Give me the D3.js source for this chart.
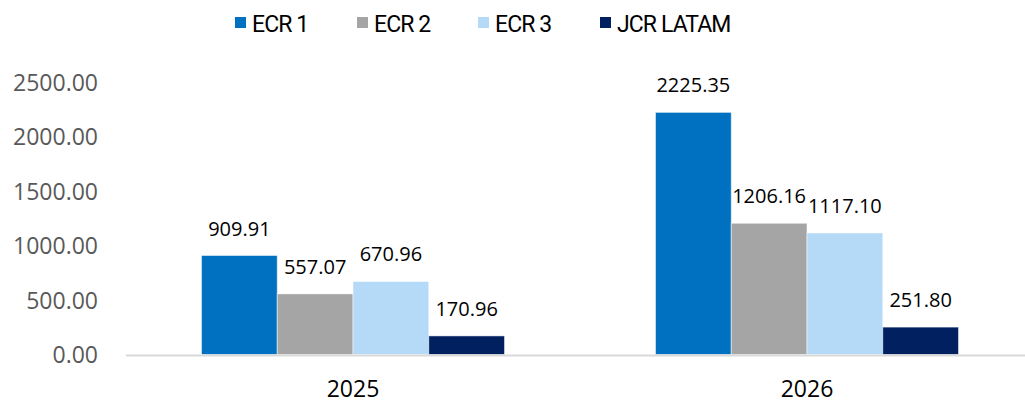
<!DOCTYPE html>
<html><head><meta charset="utf-8">
<script src="https://cdn.jsdelivr.net/npm/d3@7"></script>
<style>body{margin:0;background:#fff}svg{display:block}</style>
</head><body>
<svg id="c" width="1025" height="403"></svg>
<script>
const categories = ["2025", "2026"];
const seriesNames = ["ECR 1", "ECR 2", "ECR 3", "JCR LATAM"];
const ecr1 = [909.91, 2225.35];
const ecr2 = [557.07, 1206.16];
const ecr3 = [670.96, 1117.10];
const jcrLatam = [170.96, 251.80];
const yTicks = [0, 500, 1000, 1500, 2000, 2500];
const colors = ["#0070C0", "#A5A5A5", "#B4DAF8", "#002060"];

const seriesValues = [ecr1, ecr2, ecr3, jcrLatam];
const svg = d3.select("#c");
const W = 1025;
const x0 = d3.scaleBand().domain(categories).range([126, 1034]).padding(0);
const x1 = d3.scaleBand().domain(seriesNames).range([75.5, 378.5]).padding(0);
const y = d3.scaleLinear().domain([0, 2500]).range([354.5, 82.5]);

// y tick labels
const yAxis = d3.axisLeft(y).tickValues(yTicks).tickFormat(d3.format(".2f")).tickSize(0).tickPadding(0);
const ga = svg.append("g").attr("transform", "translate(98,0)").call(yAxis);
ga.select(".domain").remove();
ga.selectAll("text").attr("font-family", "'Open Sans', 'Noto Sans', sans-serif")
  .attr("font-size", 23).attr("fill", "#595959").attr("dy", "0.35em");

// bars
const groups = svg.selectAll("g.grp").data(categories).enter().append("g")
  .attr("transform", d => `translate(${x0(d)},0)`);
seriesNames.forEach((s, si) => {
  groups.append("rect")
    .attr("x", x1(s)).attr("width", x1.bandwidth())
    .attr("y", (d, i) => y(seriesValues[si][i]))
    .attr("height", (d, i) => y(0) - y(seriesValues[si][i]))
    .attr("fill", colors[si]).attr("stroke", "#ffffff").attr("stroke-opacity", 0.5).attr("stroke-width", 1);
  groups.append("text")
    .attr("x", x1(s) + x1.bandwidth() / 2)
    .attr("y", (d, i) => y(seriesValues[si][i]) - 20)
    .attr("text-anchor", "middle")
    .attr("font-family", "'Open Sans', 'Noto Sans', sans-serif")
    .attr("font-size", 20).attr("fill", "#000")
    .text((d, i) => d3.format(".2f")(seriesValues[si][i]));
});

// baseline axis
const xAxis = d3.axisBottom(x0).tickSize(0).tickPadding(0);
const gx = svg.append("g").attr("transform", "translate(0,355.5)").call(xAxis);
gx.select(".domain").remove();
svg.append("line").attr("x1", 126).attr("x2", W).attr("y1", 355.5).attr("y2", 355.5)
  .attr("stroke", "#D9D9D9").attr("stroke-width", 2);
gx.selectAll("text").attr("font-family", "'Open Sans', 'Noto Sans', sans-serif")
  .attr("font-size", 23).attr("fill", "#000").attr("dy", 0).attr("y", 41.5);

// legend
const legX = [235, 357, 478, 600];
const leg = svg.append("g");
seriesNames.forEach((s, i) => {
  leg.append("rect").attr("x", legX[i]).attr("y", 17).attr("width", 11).attr("height", 11).attr("fill", colors[i]);
  leg.append("text").attr("x", legX[i] + 17).attr("y", 31.5)
    .attr("font-family", "Roboto, sans-serif")
    .attr("font-size", 23).attr("letter-spacing", -0.9).attr("fill", "#000").text(s);
});
</script>
</body></html>
